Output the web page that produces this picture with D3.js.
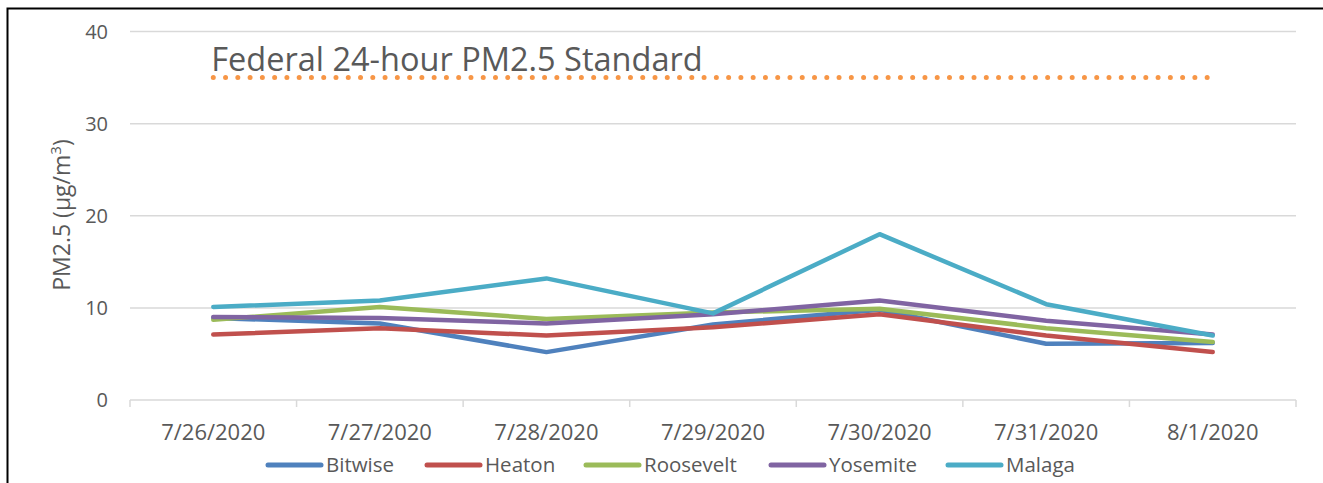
<!DOCTYPE html>
<html>
<head>
<meta charset="utf-8">
<script src="https://cdn.jsdelivr.net/npm/d3@7"></script>
<style>
    body { margin: 0; background: #fff; }
    svg { display: block; font-family: "Open Sans", sans-serif; }
</style>
</head>
<body>
<svg id="chart" width="1323" height="483"></svg>
<script>
const dates = ["7/26/2020", "7/27/2020", "7/28/2020", "7/29/2020", "7/30/2020", "7/31/2020", "8/1/2020"];

const bitwise   = [8.9, 8.3, 5.2, 8.2, 9.8, 6.1, 6.2];
const heaton    = [7.1, 7.8, 7.0, 7.9, 9.3, 7.0, 5.2];
const roosevelt = [8.7, 10.1, 8.8, 9.5, 9.9, 7.8, 6.3];
const yosemite  = [9.0, 8.9, 8.3, 9.3, 10.8, 8.6, 7.1];
const malaga    = [10.1, 10.8, 13.2, 9.4, 18.0, 10.4, 7.0];

const seriesNames = ["Bitwise", "Heaton", "Roosevelt", "Yosemite", "Malaga"];
const seriesValues = [bitwise, heaton, roosevelt, yosemite, malaga];
const yTicks = [0, 10, 20, 30, 40];
const standard = 35;
const standardLabel = "Federal 24-hour PM2.5 Standard";

const colors = {
    "Bitwise": "#4f81bd",
    "Heaton": "#c0504d",
    "Roosevelt": "#9bbb59",
    "Yosemite": "#8064a2",
    "Malaga": "#4bacc6"
};

const plotLeft = 130, plotRight = 1296, plotTop = 31.5, plotBottom = 400;
const textColor = "#595959";
const gridColor = "#d9d9d9";

const svg = d3.select("#chart");

// frame around the chart (only top and left visible in the picture)
svg.append("path")
    .attr("d", "M7.5,483 V8.5 H1323")
    .attr("fill", "none")
    .attr("stroke", "#000")
    .attr("stroke-width", 2);

const xBand = d3.scaleBand().domain(dates).range([plotLeft, plotRight]);
const xScale = function (d) { return xBand(d) + xBand.bandwidth() / 2; };
const yScale = d3.scaleLinear().domain([0, 40]).range([plotBottom, plotTop]);

// gridlines
svg.append("g")
    .selectAll("line")
    .data(yTicks)
    .join("line")
    .attr("x1", plotLeft)
    .attr("x2", plotRight)
    .attr("y1", function (d) { return yScale(d); })
    .attr("y2", function (d) { return yScale(d); })
    .attr("stroke", gridColor)
    .attr("stroke-width", 1.5);

// y tick labels
svg.append("g")
    .selectAll("text")
    .data(yTicks)
    .join("text")
    .attr("x", 108)
    .attr("y", function (d) { return yScale(d); })
    .attr("dy", "0.35em")
    .attr("text-anchor", "end")
    .attr("fill", textColor)
    .style("font-size", "20px")
    .text(function (d) { return d; });

// x axis ticks at category boundaries
const edges = dates.map(function (d) { return xBand(d); }).concat([plotRight]);
svg.append("g")
    .selectAll("line")
    .data(edges)
    .join("line")
    .attr("x1", function (d) { return d; })
    .attr("x2", function (d) { return d; })
    .attr("y1", plotBottom)
    .attr("y2", plotBottom + 7)
    .attr("stroke", gridColor)
    .attr("stroke-width", 1.5);

svg.append("g")
    .selectAll("text")
    .data(dates)
    .join("text")
    .attr("x", function (d) { return xScale(d); })
    .attr("y", 432)
    .attr("dy", "0.35em")
    .attr("text-anchor", "middle")
    .attr("fill", textColor)
    .style("font-size", "22px")
    .text(function (d) { return d; });

// y axis title
const yTitle = svg.append("text")
    .attr("transform", "translate(70,215) rotate(-90)")
    .attr("text-anchor", "middle")
    .attr("fill", textColor)
    .style("font-size", "23px");
yTitle.append("tspan").text("PM2.5 (µg/m");
yTitle.append("tspan").attr("dy", -9).style("font-size", "15px").text("3");
yTitle.append("tspan").attr("dy", 9).text(")");

// federal standard line
svg.append("line")
    .attr("x1", xScale(dates[0]))
    .attr("x2", xScale(dates[dates.length - 1]))
    .attr("y1", yScale(standard))
    .attr("y2", yScale(standard))
    .attr("stroke", "#f79646")
    .attr("stroke-width", 5)
    .attr("stroke-linecap", "round")
    .attr("stroke-dasharray", "0 12.27");

svg.append("text")
    .attr("x", xScale(dates[0]) - 2)
    .attr("y", 71)
    .attr("fill", textColor)
    .style("font-size", "32.5px")
    .text(standardLabel);

// series lines
const line = d3.line()
    .x(function (d, i) { return xScale(dates[i]); })
    .y(function (d) { return yScale(d); });

svg.append("g")
    .selectAll("path")
    .data(seriesNames)
    .join("path")
    .attr("d", function (name, i) { return line(seriesValues[i]); })
    .attr("fill", "none")
    .attr("stroke", function (name) { return colors[name]; })
    .attr("stroke-width", 4.5)
    .attr("stroke-linejoin", "round")
    .attr("stroke-linecap", "round");

// legend
const legendX = [268, 427, 586, 771, 948];
const legend = svg.append("g")
    .selectAll("g")
    .data(seriesNames)
    .join("g")
    .attr("transform", function (d, i) { return `translate(${legendX[i]}, 465)`; });
legend.append("line")
    .attr("x1", 0)
    .attr("x2", 53)
    .attr("stroke", function (d) { return colors[d]; })
    .attr("stroke-width", 5)
    .attr("stroke-linecap", "round");
legend.append("text")
    .attr("x", 58)
    .attr("dy", "0.35em")
    .attr("fill", textColor)
    .style("font-size", "20.5px")
    .text(function (d) { return d; });
</script>
</body>
</html>
